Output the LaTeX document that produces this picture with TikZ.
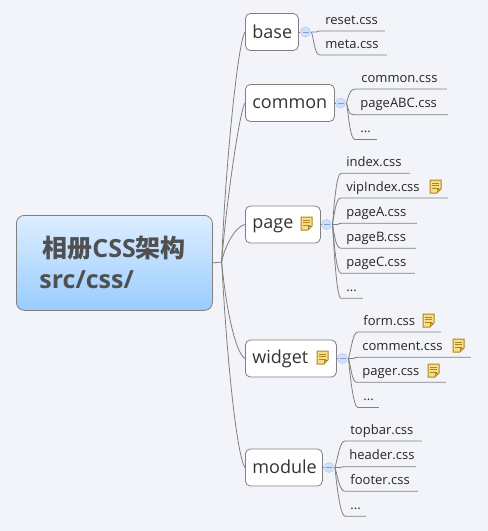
\documentclass[tikz,border=0pt]{standalone}
\usepackage{fontspec}
\setmainfont{Open Sans}
\newfontfamily\cjk{Noto Sans CJK SC}
\definecolor{bgcolor}{HTML}{F2F4FA}
\definecolor{linecolor}{HTML}{808080}
\definecolor{textcolor}{HTML}{333333}
\definecolor{rootcolor}{HTML}{505050}
\definecolor{roottop}{HTML}{DDEEFF}
\definecolor{rootbottom}{HTML}{99CCFF}
\definecolor{btnfill}{HTML}{CFE0FA}
\definecolor{btndraw}{HTML}{BDD3F5}
\definecolor{btnline}{HTML}{7F9FD0}
\definecolor{notefill}{HTML}{F6DF8C}
\definecolor{notedraw}{HTML}{AE861C}
\def\leafdots{...}
\tikzset{
    noteicon/.pic={
        \fill[notefill] (0,0) -- (11,0) -- (11,9) -- (7,13) -- (0,13) -- cycle;
        \draw[notedraw,line width=1pt] (0,0) -- (11,0) -- (11,9) -- (7,13) -- (0,13) -- cycle;
        \draw[notedraw,line width=0.8pt] (7,13) -- (7,9) -- (11,9);
        \foreach \ly in {3,5.5,8}
            \draw[notedraw,line width=0.8pt] (2,\ly) -- (9,\ly);
    }
}

\begin{document}
\begin{tikzpicture}[x=1pt,y=-1pt,line width=0.8pt,draw=linecolor]
    \tikzstyle{root topic}=[draw,rounded corners=8pt,top color=roottop,bottom color=rootbottom,anchor=north west,inner xsep=23pt,inner ysep=0pt,minimum height=95pt,text=rootcolor,align=left,font=\fontsize{25}{31}\selectfont\bfseries]
    \tikzstyle{main topic}=[draw,fill=white,rounded corners=5pt,minimum height=37pt,inner xsep=7pt,inner ysep=0pt,anchor=west,align=left,text depth=3pt,text=textcolor,font=\fontsize{18}{20}\selectfont]
    \tikzstyle{leaf topic}=[inner xsep=5pt,inner ysep=0pt,minimum height=20pt,anchor=south west,align=left,text height=10pt,text depth=3pt,text=black!85,font=\fontsize{13}{15}\selectfont]
    \tikzstyle{leaf line}=[out distance=12pt,in distance=5pt]
    \tikzstyle{collapse}=[circle,draw=btndraw,fill=btnfill,minimum size=10pt,inner sep=0pt,path picture={\draw[btnline,line width=0.6pt] ([xshift=2pt]path picture bounding box.west) -- ([xshift=-2pt]path picture bounding box.east);}]

    % Paper
    \fill[bgcolor] (0,0) rectangle (488,531);
    \useasboundingbox (0,0) rectangle (488,531);

    % Draw the root and the trunk point
    \node[root topic,text width=150pt] (root) at (16,215) {\hspace*{3pt}{\cjk 相册}CSS{\cjk 架构}\\src/css/};
    \coordinate (trunk) at (221.7,262);
    \draw (root.east) -- (trunk);

    % Draw the main topics
    \foreach \name / \y / \w / \h / \a / \oc / \b / \ic in {base/32/53/15/88/90/233/12, common/103/89/14/86/50/235/10, page/224.5/75/10/80/15/190/10, widget/358.5/91/13.5/-85/40/150/12, module/467.5/77/15/-87/100/125/14} {
        \node[main topic,text height=\h pt,text width=\w pt-14pt] (\name) at (245,\y) {\name};
        \draw (trunk) to[out=\a,in=\b,out distance=\oc pt,in distance=\ic pt] (\name.west);
    }

    % Draw the collapse buttons and their joints
    \foreach \name / \x / \y in {base/305.5/32, common/340.5/103, page/326.5/224.5, widget/342.5/358.5, module/329/467.5} {
        \node[collapse] (\name-btn) at (\x,\y) {};
        \coordinate (\name-joint) at (\x+6,\y);
        \draw (\name.east) -- (\name-btn);
        \draw (\name-btn) -- (\name-joint);
    }

    % Leaves of base
    \foreach \name / \x / \y / \w / \a / \label in {1/320/31/64/0/reset.css, 2/320/55/66/-75/meta.css} {
        \node[leaf topic,text width=\w pt-10pt] (base-\name) at (\x,\y) {\label};
        \draw (base-joint) to[leaf line,out=\a,in=180] (base-\name.south west) -- (base-\name.south east);
    }

    % Leaves of common
    \foreach \name / \x / \y / \w / \a / \label in {1/356/89/90/75/common.css, 2/355/114.7/92/-75/pageABC.css, 3/355/139.5/21/-80/\leafdots} {
        \node[leaf topic,text width=\w pt-10pt] (common-\name) at (\x,\y) {\label};
        \draw (common-joint) to[leaf line,out=\a,in=180] (common-\name.south west) -- (common-\name.south east);
    }

    % Leaves of page
    \foreach \name / \x / \y / \w / \a / \label in {1/341/173.3/68/85/index.css, 2/341/198/106/80/vipIndex.css, 3/341/223.3/75/0/pageA.css, 4/341/248.3/74/-80/pageB.css, 5/341/273.3/73/-85/pageC.css, 6/341/298.3/21/-85/\leafdots} {
        \node[leaf topic,text width=\w pt-10pt] (page-\name) at (\x,\y) {\label};
        \draw (page-joint) to[leaf line,out=\a,in=180] (page-\name.south west) -- (page-\name.south east);
    }

    % Leaves of widget
    \foreach \name / \x / \y / \w / \a / \label in {1/358/332/82/75/form.css, 2/357/357.3/113/0/comment.css, 3/357/382.3/88/-75/pager.css, 4/358/407.5/20/-85/\leafdots} {
        \node[leaf topic,text width=\w pt-10pt] (widget-\name) at (\x,\y) {\label};
        \draw (widget-joint) to[leaf line,out=\a,in=180] (widget-\name.south west) -- (widget-\name.south east);
    }

    % Leaves of module
    \foreach \name / \x / \y / \w / \a / \label in {1/345/441/76/75/topbar.css, 2/344/466.7/71/0/header.css, 3/345/491.3/72/-75/footer.css, 4/345/516.3/20/-85/\leafdots} {
        \node[leaf topic,text width=\w pt-10pt] (module-\name) at (\x,\y) {\label};
        \draw (module-joint) to[leaf line,out=\a,in=180] (module-\name.south west) -- (module-\name.south east);
    }

    % Note icons
    \foreach \x / \y in {301/217, 317/351, 430/180, 423/314, 453/339, 428/364}
        \pic at (\x,\y) {noteicon};
\end{tikzpicture}
\end{document}
